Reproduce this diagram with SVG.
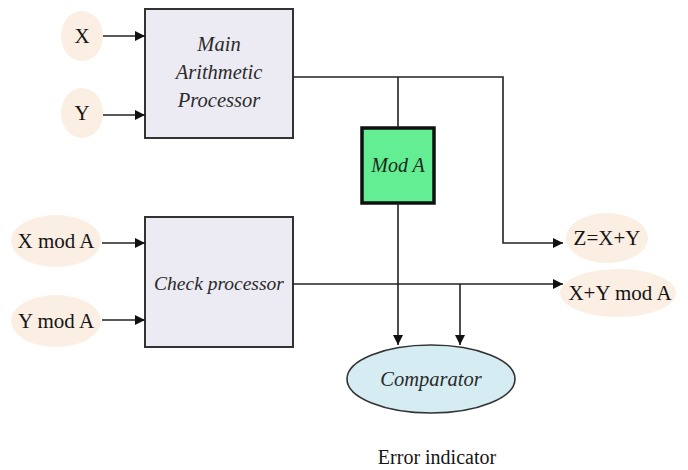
<svg xmlns="http://www.w3.org/2000/svg" width="688" height="470" viewBox="0 0 688 470">
  <defs>
    <marker id="arr" viewBox="0 0 10 10" refX="10" refY="5" markerWidth="12" markerHeight="10" markerUnits="userSpaceOnUse" orient="auto">
      <path d="M0,0 L10,5 L0,10 z" fill="#111"/>
    </marker>
    <style>
      .bg{fill:#ffffff}
      .sig{fill:#fbeee3;stroke:none}
      .proc{fill:#ecebf3;stroke:#333;stroke-width:2}
      .mod{fill:#63ee94;stroke:#111;stroke-width:3.5}
      .cmp{fill:#d5ecf2;stroke:#333;stroke-width:1.6}
      .wire{fill:none;stroke:#222;stroke-width:1.6}
    </style>
  </defs>
  <rect class="bg" x="0" y="0" width="688" height="470"/>

  <g id="in-x">
    <ellipse class="sig" cx="82" cy="36" rx="21" ry="25"/>
    <text x="82" y="43" font-family="Liberation Serif" font-size="21" fill="#151515" text-anchor="middle">X</text>
  </g>
  <g id="in-y">
    <ellipse class="sig" cx="82" cy="113" rx="21" ry="25"/>
    <text x="82" y="120" font-family="Liberation Serif" font-size="21" fill="#151515" text-anchor="middle">Y</text>
  </g>
  <g id="in-xmod">
    <ellipse class="sig" cx="56" cy="241" rx="45" ry="26"/>
    <text x="56" y="248" font-family="Liberation Serif" font-size="21" fill="#151515" text-anchor="middle">X mod A</text>
  </g>
  <g id="in-ymod">
    <ellipse class="sig" cx="56" cy="321" rx="45" ry="26"/>
    <text x="56" y="328" font-family="Liberation Serif" font-size="21" fill="#151515" text-anchor="middle">Y mod A</text>
  </g>
  <g id="out-z">
    <ellipse class="sig" cx="607" cy="238" rx="41" ry="25"/>
    <text x="607" y="245" font-family="Liberation Serif" font-size="21" fill="#151515" text-anchor="middle">Z=X+Y</text>
  </g>
  <g id="out-mod">
    <ellipse class="sig" cx="618" cy="293" rx="58" ry="24"/>
    <text x="620" y="300" font-family="Liberation Serif" font-size="21" fill="#151515" text-anchor="middle">X+Y mod A</text>
  </g>
  <g id="error-label">
    <text x="437" y="464" font-family="Liberation Serif" font-size="20" fill="#151515" text-anchor="middle">Error indicator</text>
  </g>

  <g id="main-proc">
    <rect class="proc" x="145" y="9" width="148" height="129"/>
    <text x="219" y="51" font-family="Liberation Serif" font-style="italic" font-size="20.5" fill="#2a2a2a" text-anchor="middle">Main</text>
    <text x="219" y="79" font-family="Liberation Serif" font-style="italic" font-size="20.5" fill="#2a2a2a" text-anchor="middle">Arithmetic</text>
    <text x="219" y="107" font-family="Liberation Serif" font-style="italic" font-size="20.5" fill="#2a2a2a" text-anchor="middle">Processor</text>
  </g>
  <g id="check-proc">
    <rect class="proc" x="145" y="217" width="148" height="130"/>
    <text x="219" y="290" font-family="Liberation Serif" font-style="italic" font-size="19.5" fill="#2a2a2a" text-anchor="middle">Check processor</text>
  </g>
  <g id="mod-a">
    <rect class="mod" x="362" y="128" width="72" height="75"/>
    <text x="398" y="172" font-family="Liberation Serif" font-style="italic" font-size="20" fill="#1a2a1a" text-anchor="middle">Mod A</text>
  </g>
  <g id="comparator">
    <ellipse class="cmp" cx="431" cy="379" rx="84" ry="34"/>
    <text x="431" y="386" font-family="Liberation Serif" font-style="italic" font-size="20.5" fill="#2a2a2a" text-anchor="middle">Comparator</text>
  </g>

  <g id="connectors">
    <line class="wire" x1="103" y1="36" x2="145" y2="36" marker-end="url(#arr)"/>
    <line class="wire" x1="103" y1="115" x2="145" y2="115" marker-end="url(#arr)"/>
    <line class="wire" x1="102" y1="243" x2="145" y2="243" marker-end="url(#arr)"/>
    <line class="wire" x1="102" y1="320" x2="145" y2="320" marker-end="url(#arr)"/>
    <polyline class="wire" points="293,77 503,77 503,243 563,243" marker-end="url(#arr)"/>
    <line class="wire" x1="398" y1="77" x2="398" y2="128"/>
    <line class="wire" x1="398" y1="203" x2="398" y2="345" marker-end="url(#arr)"/>
    <line class="wire" x1="293" y1="284" x2="563" y2="284" marker-end="url(#arr)"/>
    <line class="wire" x1="460" y1="284" x2="460" y2="345" marker-end="url(#arr)"/>
  </g>
</svg>
